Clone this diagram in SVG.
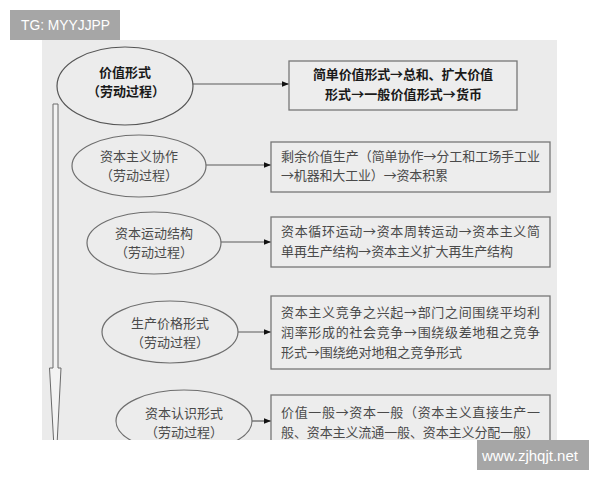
<svg xmlns="http://www.w3.org/2000/svg" width="600" height="480" viewBox="0 0 600 480">
<style>
.bg{fill:#ebebeb}
.ell{fill:#ececec;stroke:#6e6e6e;stroke-width:1.2}
.box{fill:#ededed;stroke:#777;stroke-width:1.3}
.t{font-family:"Noto Sans CJK SC","Noto Sans",sans-serif;font-size:13px;fill:#4a4a4a}
.tb{font-family:"Noto Sans CJK SC","Noto Sans",sans-serif;font-size:13px;font-weight:bold;fill:#1a1a1a}
.c{stroke:#5a5a5a;stroke-width:1.2;fill:none}
.wm{fill:#a6a6a6}
.wt{font-family:"Liberation Sans",Arial,sans-serif;font-size:14px;fill:#fff}
</style>
<defs>
<marker id="ah" viewBox="0 0 10 10" refX="10" refY="5" markerWidth="7" markerHeight="7" markerUnits="userSpaceOnUse" orient="auto">
<path d="M0,1 L10,5 L0,9 Z" fill="#111"/>
</marker>
<clipPath id="area"><rect x="42" y="40" width="515" height="400"/></clipPath>
</defs>
<rect width="600" height="480" fill="#fff"/>
<rect class="bg" x="42" y="40" width="515" height="400"/>
<g clip-path="url(#area)">
<g id="flow-arrow">
<path d="M53,104 L58,104 L58,368 L61,368 L55.5,474 L49.5,368 L53,368 Z" fill="#f3f3f3" stroke="#6a6a6a" stroke-width="1"/>
</g>
<g id="connectors">
<line class="c" x1="193" y1="84" x2="289" y2="84" marker-end="url(#ah)"/>
<line class="c" x1="206" y1="165" x2="271" y2="165" marker-end="url(#ah)"/>
<line class="c" x1="221" y1="242" x2="271" y2="242" marker-end="url(#ah)"/>
<line class="c" x1="238" y1="332" x2="271" y2="332" marker-end="url(#ah)"/>
<line class="c" x1="252" y1="421" x2="271" y2="421" marker-end="url(#ah)"/>
</g>
<g id="e1">
<ellipse class="ell" cx="125" cy="86" rx="68" ry="39" style="stroke:#555"/>
<text class="tb" x="125" y="77" text-anchor="middle">价值形式</text>
<text class="tb" x="126" y="96" text-anchor="middle">（劳动过程）</text>
</g>
<g id="b1">
<rect class="box" x="289" y="61" width="228" height="49"/>
<text class="tb" x="313" y="79" textLength="180" lengthAdjust="spacing">简单价值形式→总和、扩大价值</text>
<text class="tb" x="325" y="99" textLength="157" lengthAdjust="spacing">形式→一般价值形式→货币</text>
</g>
<g id="e2">
<ellipse class="ell" cx="139" cy="166" rx="67" ry="31"/>
<text class="t" x="139" y="161" text-anchor="middle">资本主义协作</text>
<text class="t" x="139" y="180" text-anchor="middle">（劳动过程）</text>
</g>
<g id="b2">
<rect class="box" x="271" y="142" width="279" height="50"/>
<text class="t" x="281" y="161" textLength="259" lengthAdjust="spacing">剩余价值生产（简单协作→分工和工场手工业</text>
<text class="t" x="281" y="180" textLength="167" lengthAdjust="spacing">→机器和大工业）→资本积累</text>
</g>
<g id="e3">
<ellipse class="ell" cx="154" cy="243" rx="67" ry="31"/>
<text class="t" x="154" y="238" text-anchor="middle">资本运动结构</text>
<text class="t" x="154" y="257" text-anchor="middle">（劳动过程）</text>
</g>
<g id="b3">
<rect class="box" x="271" y="217" width="279" height="50"/>
<text class="t" x="281" y="236" textLength="259" lengthAdjust="spacing">资本循环运动→资本周转运动→资本主义简</text>
<text class="t" x="281" y="256" textLength="232" lengthAdjust="spacing">单再生产结构→资本主义扩大再生产结构</text>
</g>
<g id="e4">
<ellipse class="ell" cx="170" cy="332" rx="68" ry="31"/>
<text class="t" x="170" y="328" text-anchor="middle">生产价格形式</text>
<text class="t" x="170" y="347" text-anchor="middle">（劳动过程）</text>
</g>
<g id="b4">
<rect class="box" x="271" y="296" width="279" height="73"/>
<text class="t" x="281" y="317" textLength="259" lengthAdjust="spacing">资本主义竞争之兴起→部门之间围绕平均利</text>
<text class="t" x="281" y="337" textLength="259" lengthAdjust="spacing">润率形成的社会竞争→围绕级差地租之竞争</text>
<text class="t" x="281" y="357" textLength="181" lengthAdjust="spacing">形式→围绕绝对地租之竞争形式</text>
</g>
<g id="e5">
<ellipse class="ell" cx="184" cy="421" rx="68" ry="31"/>
<text class="t" x="184" y="418" text-anchor="middle">资本认识形式</text>
<text class="t" x="184" y="437" text-anchor="middle">（劳动过程）</text>
</g>
<g id="b5">
<rect class="box" x="271" y="395" width="279" height="60"/>
<text class="t" x="281" y="417" textLength="259" lengthAdjust="spacing">价值一般→资本一般（资本主义直接生产一</text>
<text class="t" x="281" y="437" textLength="258" lengthAdjust="spacing">般、资本主义流通一般、资本主义分配一般）</text>
</g>
</g>
<g id="wm-top">
<rect class="wm" x="10" y="10" width="110" height="30"/>
<text class="wt" x="21" y="30" textLength="89" lengthAdjust="spacingAndGlyphs">TG: MYYJJPP</text>
</g>
<g id="wm-bottom">
<rect class="wm" x="477" y="440" width="112" height="30"/>
<text class="wt" x="482" y="461" textLength="96" lengthAdjust="spacingAndGlyphs" style="font-size:15px">www.zjhqjt.net</text>
</g>
</svg>
